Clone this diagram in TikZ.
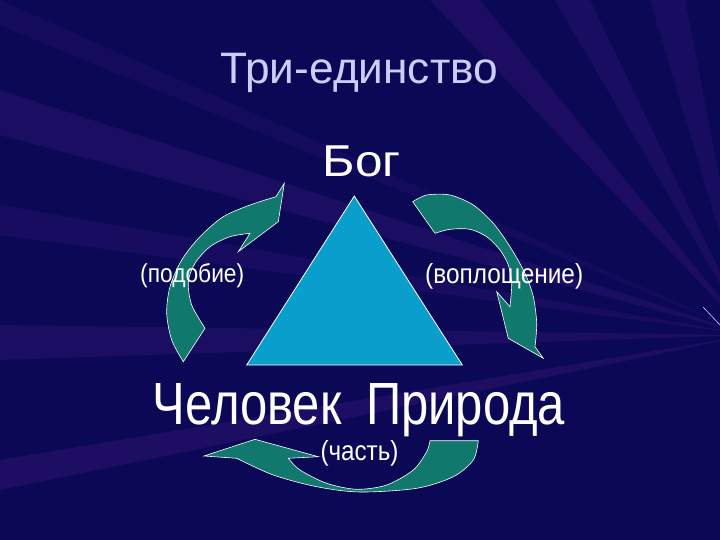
\documentclass[tikz,border=0pt]{standalone}
\usepackage{fontspec}
\setmainfont{Liberation Sans}
\usepackage{graphicx}
\definecolor{bgnavy}{RGB}{11,9,86}
\definecolor{streak}{RGB}{70,25,130}
\definecolor{tri}{RGB}{10,158,205}
\definecolor{arr}{RGB}{16,120,108}
\definecolor{ttl}{RGB}{205,205,250}
\begin{document}
\begin{tikzpicture}[x=1pt,y=-1pt,
  streakfill/.style={fill=streak, fill opacity=#1},
  streakfill/.default=0.3,
  arrowshape/.style={fill=arr, draw=white, line width=0.6pt, line join=miter},
  lbl/.style={text=white, inner sep=0pt, anchor=base},
]
\useasboundingbox (0,0) rectangle (720,540);
\fill[bgnavy] (0,0) rectangle (720,540);
% background rays
\coordinate (c) at (750,335);
\begin{scope}
\clip (0,0) rectangle (720,540);
\fill[streakfill=0.3] (c) -- (430,0) -- (480,0) -- cycle;
\fill[streakfill=0.25] (c) -- (555,0) -- (590,0) -- cycle;
\fill[streakfill=0.22] (c) -- (650,0) -- (685,0) -- cycle;
\fill[streakfill=0.18] (c) -- (0,0) -- (0,25) -- cycle;
\fill[streakfill=0.28] (c) -- (0,90) -- (0,135) -- cycle;
\fill[streakfill=0.22] (c) -- (0,205) -- (0,235) -- cycle;
\fill[streakfill=0.28] (c) -- (0,325) -- (0,360) -- cycle;
\fill[streakfill=0.32] (c) -- (0,460) -- (0,490) -- cycle;
\end{scope}
\coordinate (ra) at (703,307);
\coordinate (rb) at (720,325);
\draw[ttl, line width=0.6pt] (ra) -- (rb);

% triangle
\coordinate (apex) at (354.3,196);
\coordinate (bl) at (246.7,365);
\coordinate (br) at (462.3,365);
\fill[tri, draw=white, line width=0.8pt] (apex) -- (bl) -- (br) -- cycle;

% left arrow (подобие)
\draw[arrowshape] (284.3,183.3) -- (278.3,221.7) -- (238.3,251.7) -- (250,233.3)
  -- plot[smooth] coordinates {(250,233.3) (230,236.7) (210,246.7) (195,263.3) (188.3,282) (191.7,305) (205,328.3)}
  -- plot[smooth] coordinates {(183.3,361.7) (171.7,340) (166.7,313.3) (170,286.7) (181.7,260) (200,236.7) (223.3,216.7) (250,205) (276,196.7)}
  -- cycle;

% right arrow (воплощение)
\draw[arrowshape] plot[smooth] coordinates {(412.7,201.7) (426.7,195) (450,195) (473.3,205) (493.3,223.3) (510,246.7) (525,273.3) (533.3,296.7) (536.7,323.3) (535,346.7)}
  -- (543.3,358.3) -- (508.3,338.3) -- (496.7,291.7)
  -- plot[smooth] coordinates {(510,306.7) (511.7,283.3) (508.3,265) (500,250) (486.7,236.7) (470,229.3) (450,229.3) (435,233.3)}
  -- cycle;

% bottom arrow (часть)
\draw[arrowshape] (204,456) -- (255,439.3) -- (318.3,456.7)
  -- plot[smooth] coordinates {(288.3,458.3) (300,470) (326.7,483.3) (356.7,489.3) (386.7,485) (413.3,470) (426.7,451.7) (430,440.7)}
  -- plot[smooth] coordinates {(478.3,440.7) (473.3,460) (453.3,476.7) (416.7,488.3) (360,492) (316.7,486.7) (273.3,475) (236.7,458.3)}
  -- cycle;

% texts
\node[lbl, text=ttl] (title) at (359.4,83.3) {\resizebox{277pt}{30.3pt}{Три-единство}};
\node[lbl] (god) at (362,176.7) {\resizebox{78pt}{30.7pt}{Бог}};
\node[lbl] (mannature) at (359,424) {\resizebox{412pt}{41pt}{Человек\hspace{0.5em}Природа}};
\node[lbl] (likeness) at (192.2,282.5) {\resizebox{104pt}{19pt}{(подобие)}};
\node[lbl] (incarn) at (504.2,283) {\resizebox{158pt}{20pt}{(воплощение)}};
\node[lbl] (part) at (359.5,460) {\resizebox{78pt}{20pt}{(часть)}};
\end{tikzpicture}
\end{document}
